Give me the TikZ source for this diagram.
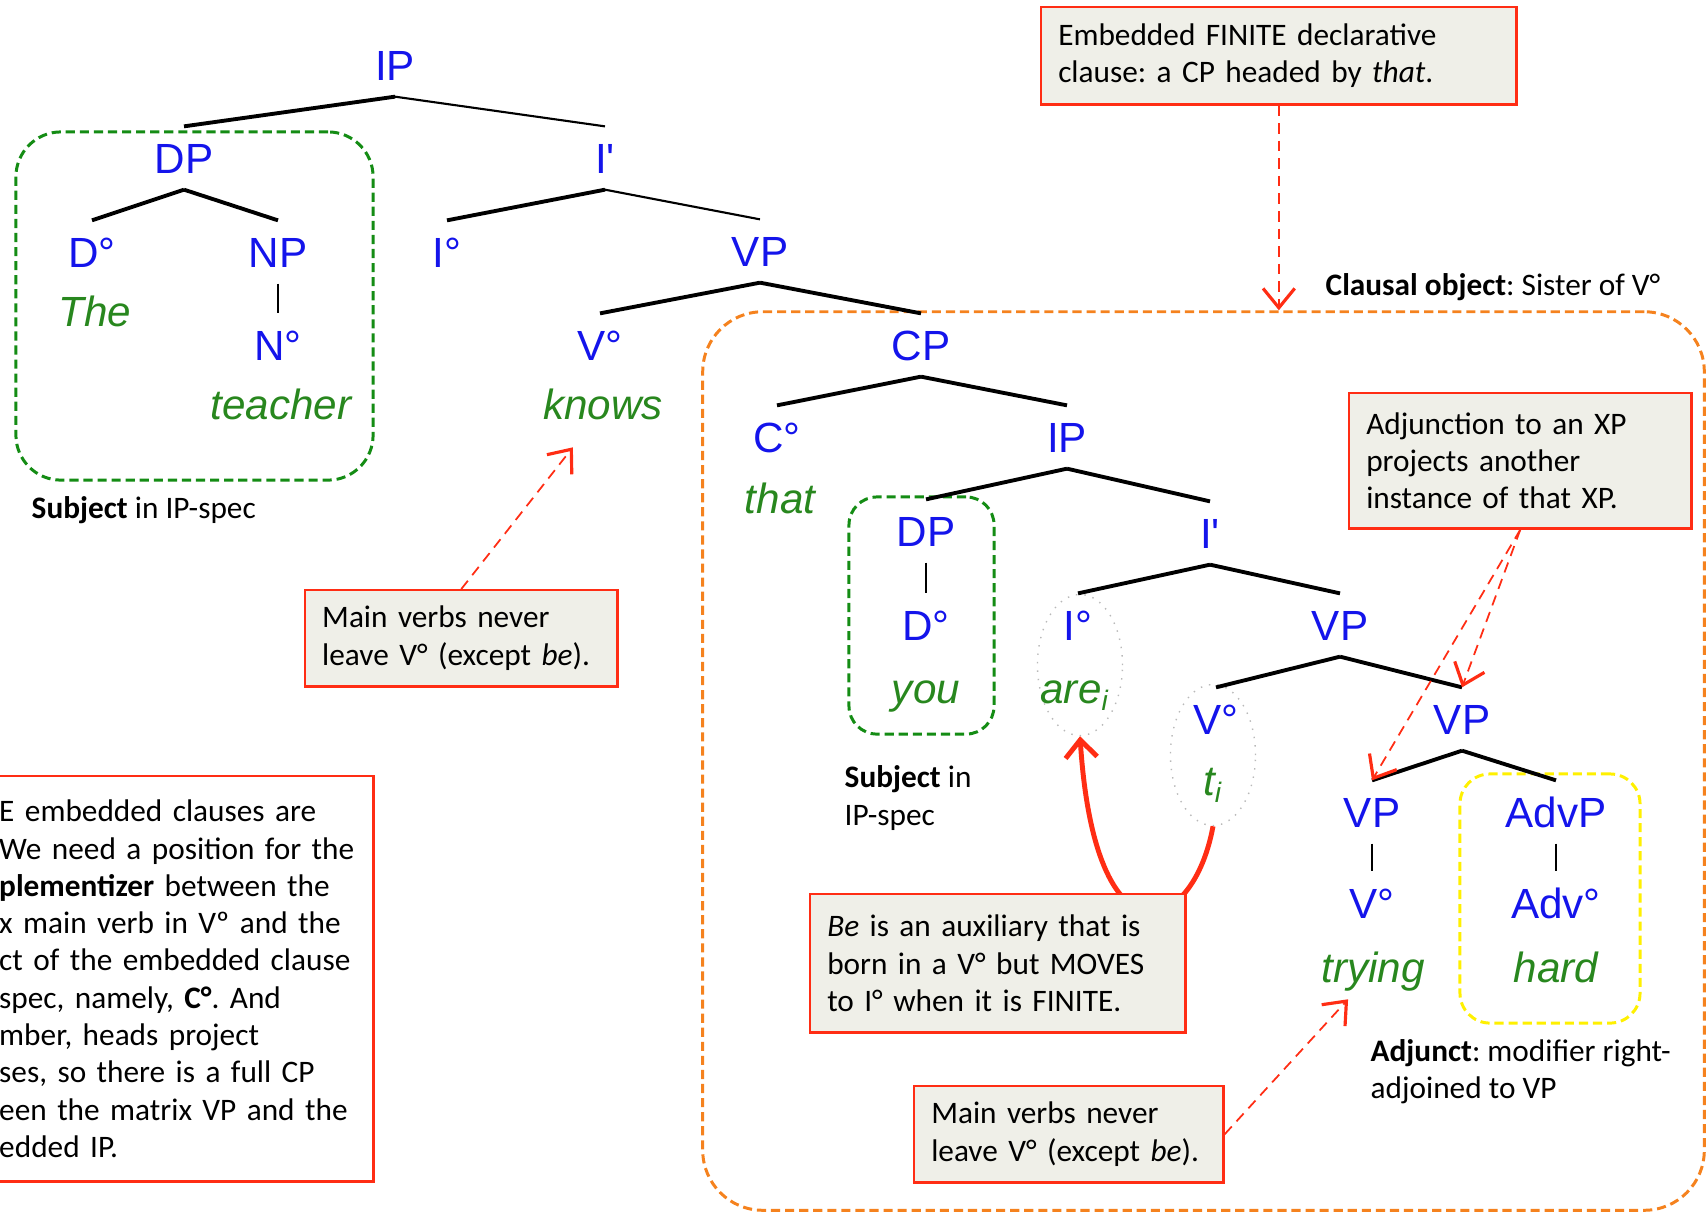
\documentclass[tikz,border=0pt]{standalone}
\usepackage{fontspec}
\setmainfont{Carlito}
\newfontfamily\treefont{Liberation Sans}
\usetikzlibrary{arrows.meta,shapes.geometric}
\definecolor{catblue}{RGB}{20,20,235}
\definecolor{wordgreen}{RGB}{40,135,30}
\definecolor{boxgreen}{RGB}{20,140,20}
\definecolor{boxyellow}{RGB}{255,240,0}
\definecolor{boxorange}{RGB}{245,130,30}
\definecolor{notered}{RGB}{255,45,20}
\definecolor{notefill}{RGB}{239,239,232}
\frenchspacing
\begin{document}
\begin{tikzpicture}[x=0.01cm,y=-0.01cm,font=\fontsize{8.9}{10.6}\selectfont,
cat/.style={font=\treefont\fontsize{12}{14}\selectfont, text=catblue, text height=8.6pt, text depth=0pt, inner xsep=1pt, inner ysep=4.5pt},
word/.style={font=\treefont\itshape\fontsize{12}{14}\selectfont, text=wordgreen, text height=8.6pt, text depth=2.5pt, inner sep=2pt},
branch/.style={line width=1.1pt},
thinbranch/.style={line width=0.6pt},
stem/.style={line width=0.6pt},
zone/.style={line width=0.85pt, dash pattern=on 2.6pt off 1.4pt, rounded corners=#1, inner sep=0pt},
trace/.style={ellipse, draw=gray!55, dotted, inner sep=0pt, minimum width=0.85cm, minimum height=1.41cm},
note/.style={draw=notered, line width=0.7pt, fill=notefill, anchor=north west, inner xsep=0.17cm, inner ysep=0pt, align=left},
caption/.style={anchor=west, inner sep=0pt, align=left},
hint/.style={draw=notered, line width=0.5pt, dash pattern=on 3pt off 2pt, -{Straight Barb[length=5.5pt,width=9pt,line width=0.9pt]}},
movearrow/.style={draw=notered, line width=1.4pt, -{Straight Barb[length=5pt,width=9pt]}}]
\useasboundingbox (0,0) rectangle (1706,1214);
\clip (0,0) rectangle (1706,1214);
\node[zone=0.6cm, draw=boxorange, minimum width=10.01cm, minimum height=8.98cm] (obj) at (1203.5,761){};
\node[zone=0.45cm, draw=boxgreen, minimum width=3.57cm, minimum height=3.48cm] (subj0) at (194.5,306){};
\node[zone=0.28cm, draw=boxgreen, minimum width=1.45cm, minimum height=2.37cm] (subj1) at (921.5,615.5){};
\node[zone=0.3cm, draw=boxyellow, minimum width=1.8cm, minimum height=2.49cm] (adjt) at (1550,898.5){};
\node[trace] (ring0) at (1080,665){};
\node[trace] (ring1) at (1213,755){};
\draw[movearrow] (ring1.south) .. controls +(-20,110) and +(15,234) .. (ring0.south);
\node[cat] (ip0) at (395,65){IP};
\node[cat] (dp0) at (184,158){DP};
\node[cat] (ib0) at (605,158){I\textquotesingle};
\draw[branch](ip0.south) -- (dp0.north);
\draw[thinbranch](ip0.south) -- (ib0.north);
\node[cat] (d0) at (92,252){D°};
\node[cat] (np0) at (278,252){NP};
\draw[branch](dp0.south) -- (d0.north);
\draw[branch](dp0.south) -- (np0.north);
\node[cat] (n0) at (278,345){N°};
\draw[stem](np0.south) -- (n0.north);
\node[word] (w0) at (95,316){The};
\node[word] (w1) at (281,409){teacher};
\node[cat] (i0) at (447,252){I°};
\node[cat] (vp0) at (760,251){VP};
\draw[branch](ib0.south) -- (i0.north);
\draw[thinbranch](ib0.south) -- (vp0.north);
\node[cat] (v0) at (600,345){V°};
\node[cat] (cp0) at (921,345){CP};
\draw[branch](vp0.south) -- (v0.north);
\draw[branch](vp0.south) -- (cp0.north);
\node[word] (w2) at (603,409){knows};
\node[cat] (c0) at (777,437){C°};
\node[cat] (ip1) at (1067,437){IP};
\draw[branch](cp0.south) -- (c0.north);
\draw[branch](cp0.south) -- (ip1.north);
\node[word] (w3) at (780,503){that};
\node[cat] (dp1) at (926,531){DP};
\node[cat] (ib1) at (1210,533){I\textquotesingle};
\draw[branch](ip1.south) -- (dp1.north);
\draw[branch](ip1.south) -- (ib1.north);
\node[cat] (d1) at (926,625){D°};
\draw[stem](dp1.south) -- (d1.north);
\node[word] (w4) at (926,693){you};
\node[cat] (i1) at (1078,625){I°};
\node[cat] (vp1) at (1340,625){VP};
\draw[branch](ib1.south) -- (i1.north);
\draw[branch](ib1.south) -- (vp1.north);
\node[word] (w5) at (1075,693){are\textsubscript{i}};
\node[cat] (v1) at (1216,719){V°};
\node[cat] (vp2) at (1462,719){VP};
\draw[branch](vp1.south) -- (v1.north);
\draw[branch](vp1.south) -- (vp2.north);
\node[word] (w6) at (1213,785){t\textsubscript{i}};
\node[cat] (vp3) at (1372,812){VP};
\node[cat] (ap0) at (1556,812){AdvP};
\draw[branch](vp2.south) -- (vp3.north);
\draw[branch](vp2.south) -- (ap0.north);
\node[cat] (v2) at (1372,903){V°};
\node[cat] (a0) at (1556,903){Adv°};
\draw[stem](vp3.south) -- (v2.north);
\draw[stem](ap0.south) -- (a0.north);
\node[word] (w7) at (1373,972){trying};
\node[word] (w8) at (1556,972){hard};
\node[note, minimum width=4.75cm, minimum height=0.97cm, text width=4.41cm] (finite) at (1040,6){Embedded FINITE declarative\\clause: a CP headed by \textit{that}.};
\node[note, minimum width=3.42cm, minimum height=1.35cm, text width=3.08cm] (adj) at (1348,392){Adjunction to an XP\\projects another\\instance of that XP.};
\node[note, minimum width=3.12cm, minimum height=0.96cm, text width=2.78cm] (mv0) at (304,589){Main verbs never\\leave V° (except \textit{be}).};
\node[note, minimum width=3.75cm, minimum height=1.38cm, text width=3.41cm] (be) at (809,893){\textit{Be} is an auxiliary that is\\born in a V° but MOVES\\to I° when it is FINITE.};
\node[note, minimum width=3.09cm, minimum height=0.96cm, text width=2.75cm] (mv1) at (913,1085){Main verbs never\\leave V° (except \textit{be}).};
\node[note, fill=white, inner xsep=0.03cm, minimum width=3.77cm, minimum height=4.05cm, text width=3.71cm] (left) at (-5,775){E embedded clauses are\\We need a position for the\\\textbf{plementizer} between the\\x main verb in Vº and the\\ct of the embedded clause\\spec, namely, \textbf{C°}. And\\mber, heads project\\ses, so there is a full CP\\een the matrix VP and the\\edded IP.};
\draw[hint](finite.south) -- (finite.south |- obj.north);
\draw[hint, shorten >=4pt](mv0.north) -- (w2);
\draw[hint](adj.south) -- (vp3.north);
\draw[hint](adj.south) -- (vp2.north);
\draw[hint](mv1.east) -- (w7);
\node[caption] (lab0) at (31,510){\textbf{Subject} in IP-spec};
\node[caption] (lab1) at (1325,287){\textbf{Clausal object}: Sister of V°};
\node[caption] (lab2) at (844,798){\textbf{Subject} in\\IP-spec};
\node[caption] (lab3) at (1370,1072){\textbf{Adjunct}: modifier right-\\adjoined to VP};
\end{tikzpicture}
\end{document}
